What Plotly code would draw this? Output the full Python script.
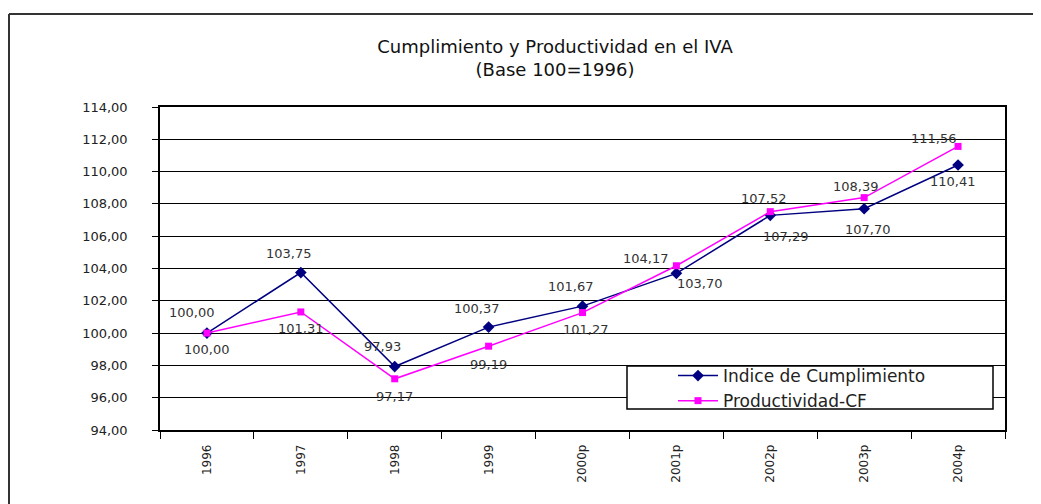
import plotly.graph_objects as go

years = ["1996", "1997", "1998", "1999", "2000p", "2001p", "2002p", "2003p", "2004p"]
cumplimiento = [100.00, 103.75, 97.93, 100.37, 101.67, 103.70, 107.29, 107.70, 110.41]
productividad = [100.00, 101.31, 97.17, 99.19, 101.27, 104.17, 107.52, 108.39, 111.56]
y_ticks = [94, 96, 98, 100, 102, 104, 106, 108, 110, 112, 114]

# label pixel offsets (dx right, dy down) relative to each marker - styling only
off_cump = [(-15, -21), (-12, -19), (-12, -20), (-12, -19), (-12, -20),
            (24, 10), (16, 21), (4, 21), (-5, 17)]
off_prod = [(0, 16), (0, 17), (0, 18), (0, 18), (3, 17),
            (-30, -7), (-6, -13), (-8, -11), (-24, -8)]

FONT = "DejaVu Sans, Verdana, sans-serif"

def lbl(v):
    return f"{v:.2f}".replace(".", ",")

fig = go.Figure()
fig.add_trace(go.Scatter(
    x=years, y=cumplimiento, name="Indice de Cumplimiento",
    mode="lines+markers",
    line=dict(color="#000080", width=1.5),
    marker=dict(symbol="diamond", size=9, color="#000080"),
))
fig.add_trace(go.Scatter(
    x=years, y=productividad, name="Productividad-CF",
    mode="lines+markers",
    line=dict(color="#FF00FF", width=1.5),
    marker=dict(symbol="square", size=7, color="#FF00FF"),
))

annotations = []
for vals, offs in ((cumplimiento, off_cump), (productividad, off_prod)):
    for i, (v, (dx, dy)) in enumerate(zip(vals, offs)):
        annotations.append(dict(
            x=i, y=v, xref="x", yref="y", text=lbl(v), showarrow=False,
            xshift=dx, yshift=-dy, xanchor="center", yanchor="middle",
            font=dict(size=13, family=FONT, color="#333333"),
        ))

# page is offset by 8px body margin
OFF = 8
W, H = 1041 - OFF, 504 - OFF
L, R, T, B = 160 - OFF, W - (1005 - OFF), 107 - OFF, H - (430 - OFF)
pw, ph = W - L - R, H - T - B

def px(xpage):
    return (xpage - OFF - L) / pw

def py(ypage):
    return (H - B - (ypage - OFF)) / ph

fig.update_layout(
    width=W, height=H,
    margin=dict(l=L, r=R, t=T, b=B, autoexpand=False),
    paper_bgcolor="white", plot_bgcolor="white",
    separators=",.",
    font=dict(family=FONT, size=14, color="black"),
    title=dict(
        text="Cumplimiento y Productividad en el IVA<br>(Base 100=1996)",
        x=(555 - OFF) / W, xanchor="center", xref="container",
        y=1 - (53 - OFF) / H, yanchor="top", yref="container",
        font=dict(size=18, family=FONT, color="#111111"),
    ),
    showlegend=True,
    legend=dict(
        x=px(673), y=py(358), xanchor="left", yanchor="top",
        bgcolor="rgba(0,0,0,0)", borderwidth=0,
        font=dict(size=17, family=FONT, color="#222222"),
        tracegroupgap=0, itemwidth=40,
    ),
    annotations=annotations,
    xaxis=dict(
        type="category", range=[-0.5, len(years) - 0.5],
        showgrid=False, automargin=False,
        showline=True, linecolor="black", linewidth=1.5, mirror=True,
        ticks="outside", tickson="boundaries", ticklen=7, tickcolor="black",
        tickangle=-90, ticklabelstandoff=8,
        tickfont=dict(size=12, family=FONT, color="#222222"),
    ),
    yaxis=dict(
        range=[94, 114], tickvals=y_ticks, tickformat=".2f", automargin=False,
        showgrid=True, gridcolor="black", gridwidth=1,
        showline=True, linecolor="black", linewidth=1.5, mirror=True,
        ticks="outside", ticklen=6, tickcolor="black",
        ticklabelstandoff=22,
        tickfont=dict(size=13, family=FONT, color="#222222"),
        zeroline=False,
    ),
    shapes=[
        dict(type="line", xref="paper", yref="paper",
             x0=px(OFF + 1), x1=px(1045),
             y0=py(14), y1=py(14),
             line=dict(color="#333333", width=2)),
        dict(type="line", xref="paper", yref="paper",
             x0=px(OFF + 1), x1=px(OFF + 1),
             y0=py(14), y1=py(520),
             line=dict(color="#333333", width=2)),
        # legend frame
        dict(type="rect", xref="paper", yref="paper", layer="above",
             x0=px(627), x1=px(993), y0=py(366), y1=py(409),
             fillcolor="white", line=dict(color="black", width=1.5)),
    ],
)

fig.write_html("out.html")
